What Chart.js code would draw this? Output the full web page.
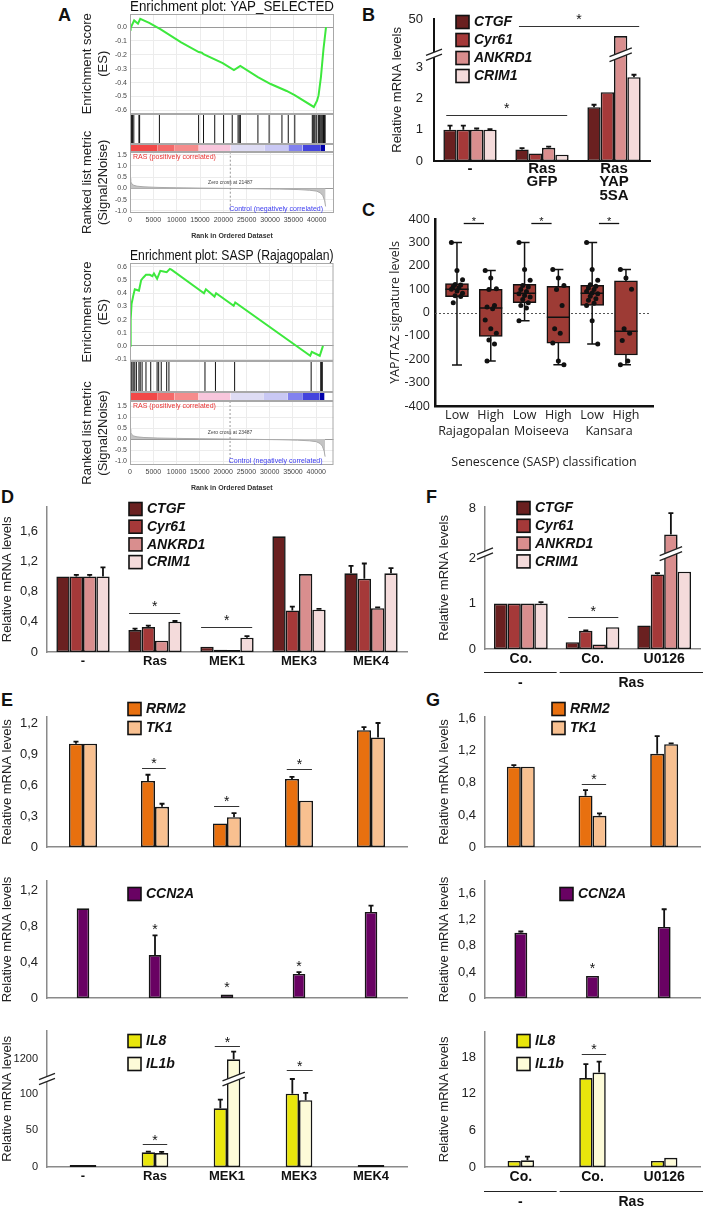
<!DOCTYPE html>
<html>
<head>
<meta charset="utf-8">
<script src="https://cdn.jsdelivr.net/npm/chart.js@4.4.1/dist/chart.umd.min.js"></script>
<style>
body { margin: 0; background: #fff; }
#fig { position: relative; width: 709px; height: 1210px; overflow: hidden; background: #fff; font-family: 'Liberation Sans', Arial, sans-serif; }
#fig canvas { position: absolute; }
.lt { position: absolute; font-weight: bold; font-size: 18px; line-height: 18px; color: #111; }
</style>
</head>
<body>
<div id="fig">
  <div class="lt" style="left:58px;top:6px">A</div>
  <div class="lt" style="left:362px;top:6px">B</div>
  <div class="lt" style="left:362px;top:201px">C</div>
  <div class="lt" style="left:1px;top:488px">D</div>
  <div class="lt" style="left:1px;top:691px">E</div>
  <div class="lt" style="left:426px;top:488px">F</div>
  <div class="lt" style="left:426px;top:691px">G</div>
</div>
<script>
// ---- GSEA (panel A) ----
const rankTicks = [0, 5000, 10000, 15000, 20000, 25000, 30000, 35000, 40000];
const yapX = [0, 140, 890, 1710, 2190, 4110, 6500, 10960, 14730, 15400, 15750, 19860, 22260, 23630, 27400, 30140, 33560, 35270, 39380, 40070, 40400, 40900, 41440, 41990];
const yapY = [0, -0.007, 0.048, 0.024, 0.06, 0.03, -0.015, -0.11, -0.18, -0.185, -0.195, -0.26, -0.31, -0.28, -0.36, -0.41, -0.46, -0.49, -0.575, -0.53, -0.49, -0.36, -0.16, 0.0];
const yapHits = [340, 550, 820, 1920, 2060, 6300, 14700, 15750, 18150, 20050, 21900, 23150, 23400, 23650, 27400, 29800, 32550, 33900, 35300, 39050, 39250, 39450, 39650, 40000, 40350, 40550, 40700, 40900, 41100, 41300, 41450, 41650, 41800];
const saspX = [0, 140, 340, 690, 1030, 1510, 1920, 2400, 2880, 3430, 4250, 4800, 5140, 5820, 6510, 7190, 7880, 8560, 8900, 15890, 16300, 18150, 18490, 22260, 22600, 38700, 39040, 40750, 41440];
const saspY = [0, 0.2, 0.32, 0.38, 0.43, 0.425, 0.42, 0.5, 0.52, 0.54, 0.54, 0.53, 0.55, 0.51, 0.57, 0.565, 0.56, 0.585, 0.58, 0.40, 0.43, 0.375, 0.40, 0.305, 0.33, -0.075, -0.045, -0.075, 0.0];
const saspHits = [200, 410, 690, 1030, 1370, 1920, 2190, 2600, 3430, 4450, 5820, 6160, 6710, 7880, 8360, 16100, 18350, 22470, 38900, 40960, 41100, 41300];
const bandEdges = [0, 5822, 9589, 14726, 21575, 28767, 33904, 36986, 40753, 41781];
const bandColors = ['#f24848', '#f46a6a', '#f58c8c', '#f8c6dc', '#dedcf4', '#c9c8f4', '#8282ee', '#4444dd', '#0000aa'];
const metX = [0, 150, 400, 800, 1500, 3000, 6000, 10000, 15000, 21487, 27000, 32000, 36000, 38500, 40000, 40800, 41300, 41700, 41900];
const metY = [0.45, 0.3, 0.2, 0.14, 0.1, 0.07, 0.045, 0.03, 0.015, 0, -0.015, -0.03, -0.05, -0.08, -0.12, -0.2, -0.32, -0.55, -0.8];
const metTicks = [-1.0, -0.5, 0.0, 0.5, 1.0, 1.5];

// ---- B ----
const labelsB = ['-', ['Ras', 'GFP'], ['Ras', 'YAP', '5SA']];
const ticksB = [0, 1, 2, 3, 50];
const bCTGF = [1.0, 0.37, 1.72], bCTGFerr = [0.13, 0.04, 0.08];
const bCyr61 = [1.0, 0.24, 2.2], bCyr61err = [0.13, 0, 0];
const bANKRD1 = [1.0, 0.42, 28], bANKRD1err = [0.04, 0.04, 0];
const bCRIM1 = [1.0, 0.2, 2.68], bCRIM1err = [0.02, 0, 0.08];

// ---- C ----
const cLabels = ['Low', 'High', 'Low', 'High', 'Low', 'High'];
const cCohorts = ['Rajagopalan', 'Moiseeva', 'Kansara'];
const cTicks = [-400, -300, -200, -100, 0, 100, 200, 300, 400];
const cMin = [-225, -207, -35, -223, -135, -223];
const cQ1 = [68, -102, 42, -131, 30, -182];
const cMed = [99, 19, 82, -20, 82, -80];
const cQ3 = [124, 99, 120, 112, 116, 135];
const cMax = [300, 180, 300, 184, 300, 184];
const cPoints = [
  [300, 180, 140, 120, 118, 110, 105, 100, 92, 82, 72, 68, 42],
  [180, 148, 102, 98, 30, 23, 16, -32, -70, -89, -118, -135, -207],
  [300, 184, 138, 116, 109, 98, 90, 80, 73, 66, 56, 42, 30, 19, -35],
  [184, 148, 116, 98, 30, -70, -89, -131, -207, -223],
  [300, 184, 138, 119, 112, 105, 98, 90, 83, 80, 70, 59, 52, 40, 30, -35, -135],
  [184, 148, 99, -70, -89, -120, -207, -223]
];

// ---- D ----
const labelsDE = ['-', 'Ras', 'MEK1', 'MEK3', 'MEK4'];
const ticksD = [0, 0.4, 0.8, 1.2, 1.6];
const dCTGF = [1.0, 0.29, 0.07, 1.53, 1.04], dCTGFerr = [0, 0.02, 0, 0, 0.1];
const dCyr61 = [1.0, 0.33, 0.03, 0.55, 0.97], dCyr61err = [0.02, 0.02, 0, 0.05, 0.2];
const dANKRD1 = [1.0, 0.15, 0.02, 1.03, 0.58], dANKRD1err = [0.02, 0, 0, 0, 0.01];
const dCRIM1 = [1.0, 0.4, 0.19, 0.56, 1.04], dCRIM1err = [0.12, 0.01, 0.02, 0.01, 0.07];

// ---- E ----
const ticksE1 = [0, 0.3, 0.6, 0.9, 1.2];
const eRRM2 = [1.0, 0.64, 0.23, 0.66, 1.13], eRRM2err = [0.02, 0.06, 0, 0.02, 0.03];
const eTK1 = [1.0, 0.39, 0.29, 0.45, 1.06], eTK1err = [0, 0.03, 0.04, 0, 0.14];
const ticksE2 = [0, 0.4, 0.8, 1.2];
const eCCN2A = [1.0, 0.48, 0.04, 0.27, 0.96], eCCN2Aerr = [0, 0.22, 0, 0.02, 0.07];
const ticksE3 = [0, 50, 100, 1200];
const eIL8 = [1, 20, 80, 100, 1], eIL8err = [0, 1, 12, 20, 0];
const eIL1b = [1, 19, 1200, 91, 1], eIL1berr = [0, 1.5, 420, 10, 0];

// ---- F ----
const labelsFG = ['Co.', 'Co.', 'U0126'];
const ticksF = [0, 1, 2, 8];
const fCTGF = [1.0, 0.15, 0.52], fCTGFerr = [0, 0, 0];
const fCyr61 = [1.0, 0.4, 1.64], fCyr61err = [0, 0.01, 0.03];
const fANKRD1 = [1.0, 0.1, 4.6], fANKRD1err = [0, 0, 2.8];
const fCRIM1 = [1.0, 0.48, 1.7], fCRIM1err = [0.03, 0, 0];

// ---- G ----
const ticksG1 = [0, 0.4, 0.8, 1.2, 1.6];
const gRRM2 = [1.0, 0.64, 1.16], gRRM2err = [0.02, 0.07, 0.22];
const gTK1 = [1.0, 0.39, 1.28], gTK1err = [0, 0.03, 0.01];
const gCCN2A = [1.0, 0.34, 1.09], gCCN2Aerr = [0.02, 0, 0.27];
const ticksG3 = [0, 6, 12, 18];
const gIL8 = [1.0, 14.6, 1.0], gIL8err = [0, 2.3, 0];
const gIL1b = [1.1, 15.5, 1.5], gIL1berr = [0.6, 1.8, 0];

const COL = {
  CTGF: '#6a2020', Cyr61: '#a53939', ANKRD1: '#d98e8e', CRIM1: '#f4dbdb',
  RRM2: '#e8700f', TK1: '#f8c090', CCN2A: '#690263', IL8: '#e9e60c', IL1b: '#fdfbd8'
};

const SANS = "'Liberation Sans', Arial, sans-serif";
const OPEN = "'Open Sans', 'Noto Sans', sans-serif";
Chart.defaults.font.family = SANS;
Chart.defaults.color = '#222';
Chart.defaults.animation = false;

function cv(x, y, w, h) {
  const c = document.createElement('canvas');
  c.width = w; c.height = h;
  Object.assign(c.style, { left: x + 'px', top: y + 'px', width: w + 'px', height: h + 'px' });
  document.getElementById('fig').appendChild(c);
  return c;
}

const num = v => Number.isInteger(v) ? String(v) : v.toFixed(1).replace('.', ',');

function zigzag(ctx, cx, cy, w) {
  const h = w * 0.4, g = 2.5;
  ctx.save();
  ctx.fillStyle = '#fff';
  ctx.beginPath();
  ctx.moveTo(cx - w / 2, cy + h / 2 - g); ctx.lineTo(cx + w / 2, cy - h / 2 - g);
  ctx.lineTo(cx + w / 2, cy - h / 2 + g); ctx.lineTo(cx - w / 2, cy + h / 2 + g);
  ctx.closePath(); ctx.fill();
  ctx.strokeStyle = '#222'; ctx.lineWidth = 1.3;
  ctx.beginPath();
  ctx.moveTo(cx - w / 2, cy + h / 2 - g); ctx.lineTo(cx + w / 2, cy - h / 2 - g);
  ctx.moveTo(cx - w / 2, cy + h / 2 + g); ctx.lineTo(cx + w / 2, cy - h / 2 + g);
  ctx.stroke();
  ctx.restore();
}

// error bars, breaks, significance marks, legend and group labels
function barDecor(o, map) {
  return {
    id: 'barDecor',
    afterDatasetsDraw(chart) {
      const { ctx, chartArea: area } = chart;
      const xs = chart.scales.x, ys = chart.scales.y;
      const n = chart.data.labels.length;
      const px = p => xs.left + (p + 0.5) * xs.width / n;
      const py = v => ys.getPixelForValue(v);
      ctx.save();
      o.sets.forEach((s, di) => {
        if (!s.err) return;
        const bars = chart.getDatasetMeta(di).data;
        s.err.forEach((e, j) => {
          if (!e) return;
          const b = bars[j], top = py(map(s.data[j] + e));
          ctx.strokeStyle = '#111'; ctx.lineWidth = 1.8;
          ctx.beginPath();
          ctx.moveTo(b.x, b.y); ctx.lineTo(b.x, top);
          ctx.moveTo(b.x - 2.5, top); ctx.lineTo(b.x + 2.5, top);
          ctx.stroke();
        });
      });
      if (o.brk) {
        const y = py(o.brk.at);
        zigzag(ctx, area.left, y, 16);
        (o.brk.bars || []).forEach(([di, j]) => {
          const b = chart.getDatasetMeta(di).data[j];
          zigzag(ctx, b.x, y, b.width + 9);
        });
      }
      if (o.sig) {
        const sz = o.sig.size || 14;
        ctx.font = sz + 'px ' + SANS;
        ctx.textAlign = 'center'; ctx.textBaseline = 'alphabetic';
        ctx.fillStyle = '#111'; ctx.strokeStyle = '#333'; ctx.lineWidth = 1;
        (o.sig.lines || []).forEach(([a, b, v]) => {
          const y = Math.round(py(v)) + 0.5;
          ctx.beginPath(); ctx.moveTo(px(a), y); ctx.lineTo(px(b), y); ctx.stroke();
          ctx.fillText('*', (px(a) + px(b)) / 2, y - o.sig.gap + sz * 0.57);
        });
        (o.sig.stars || []).forEach(([a, v]) => ctx.fillText('*', px(a), py(v) + sz * 0.57));
      }
      if (o.legend) {
        const lg = o.legend, sz = 13;
        ctx.font = 'italic bold 14px ' + SANS;
        ctx.textAlign = 'left'; ctx.textBaseline = 'middle';
        o.sets.forEach((s, k) => {
          const cy = lg.y + k * lg.gap;
          ctx.fillStyle = s.color; ctx.fillRect(lg.x, cy - sz / 2, sz, sz);
          ctx.strokeStyle = '#111'; ctx.lineWidth = 1.6; ctx.strokeRect(lg.x, cy - sz / 2, sz, sz);
          ctx.fillStyle = '#111'; ctx.fillText(s.label, lg.x + sz + 5, cy + 0.5);
        });
      }
      if (o.groups) {
        const yl = area.bottom + o.groups.line + 0.5, yt = area.bottom + o.groups.text;
        ctx.font = 'bold 14px ' + SANS;
        ctx.textAlign = 'center'; ctx.textBaseline = 'middle';
        ctx.strokeStyle = '#222'; ctx.lineWidth = 1; ctx.fillStyle = '#111';
        o.groups.items.forEach(([a, b, label]) => {
          const x0 = px(a - 0.5) + (a === 0 ? -1 : 3), x1 = px(b + 0.5) + (b === n - 1 ? 3 : 0);
          ctx.beginPath(); ctx.moveTo(x0, yl); ctx.lineTo(x1, yl); ctx.stroke();
          ctx.fillText(label, (x0 + x1) / 2, yt);
        });
      }
      ctx.restore();
    }
  };
}

function barPanel(o) {
  const map = o.map || (v => v);
  const canvas = cv(o.box[0], o.box[1], o.box[2], o.box[3]);
  const axisCol = o.axisColor || '#8a8a8a';
  return new Chart(canvas, {
    type: 'bar',
    data: {
      labels: o.labels,
      datasets: o.sets.map(s => ({
        label: s.label, data: s.data.map(map), backgroundColor: s.color,
        borderColor: '#151515', borderWidth: 1.6, borderSkipped: false, minBarLength: 2,
        categoryPercentage: o.cat, barPercentage: 1
      }))
    },
    options: {
      responsive: false, devicePixelRatio: 1, animation: false,
      layout: { padding: { top: o.padTop, right: o.padRight, left: 0, bottom: 0 } },
      plugins: { legend: { display: false }, tooltip: { enabled: false }, title: { display: false } },
      scales: {
        x: {
          grid: { display: false, drawTicks: false },
          border: { color: axisCol, width: o.axisWidth || 1.5 },
          ticks: {
            display: o.showX !== false, color: '#111', padding: o.xPad || 4,
            font: { size: o.xFont || 13, weight: 'bold', lineHeight: 0.9 },
            maxRotation: 0, autoSkip: false
          },
          afterFit: a => { a.height = o.xH; }
        },
        y: {
          min: 0, max: o.yMax,
          grid: { display: false, drawTicks: false },
          border: { color: axisCol, width: o.axisWidth || 1.5 },
          afterBuildTicks: a => { a.ticks = o.ticks.map(v => ({ value: map(v) })); },
          ticks: { font: { size: o.yFont || 13 }, color: '#222', padding: o.yPad || 9, autoSkip: false, callback: (v, i) => num(o.ticks[i]) },
          title: { display: true, text: 'Relative mRNA levels', font: { size: 13 }, color: '#222', padding: 0 },
          afterFit: a => { a.width = o.yW; }
        }
      }
    },
    plugins: [barDecor(o, map)]
  });
}

// ---- GSEA builder ----
function gseaPanel(o) {
  const canvas = cv(o.box[0], o.box[1], o.box[2], o.box[3]);
  const ds = [];
  ds.push({ data: o.esX.map((x, i) => ({ x, y: o.esY[i] })), yAxisID: 'yES', borderColor: '#3de83d', borderWidth: 2, pointRadius: 0, tension: 0 });
  ds.push({
    type: 'scatter', data: o.hits.map(x => ({ x, y: 0.5 })), yAxisID: 'yHit',
    pointStyle: 'line', pointRotation: 90, pointRadius: o.hitR, pointBorderColor: '#111', pointBorderWidth: 1
  });
  bandColors.forEach((c, k) => ds.push({
    data: [{ x: bandEdges[k], y: 1 }, { x: bandEdges[k + 1], y: 1 }], yAxisID: 'yBand',
    fill: 'origin', backgroundColor: c, borderWidth: 0, pointRadius: 0
  }));
  ds.push({ data: metX.map((x, i) => ({ x, y: metY[i] })), yAxisID: 'yMet', fill: 'origin', backgroundColor: '#c4c4c4', borderColor: '#aaa', borderWidth: 1, pointRadius: 0 });

  const tickFont = { size: 7 };
  const side = (w, extra) => Object.assign({
    type: 'linear', position: 'left', stack: 'gsea', stackWeight: w,
    grid: { display: false, drawTicks: false }, border: { display: false },
    afterFit: a => { a.width = 50; }
  }, extra);
  const lightGrid = { drawTicks: false, color: c => (c.tick && c.tick.value === 0) ? '#9a9a9a' : '#ececec' };

  return new Chart(canvas, {
    type: 'line',
    data: { datasets: ds },
    options: {
      responsive: false, devicePixelRatio: 1, animation: false,
      layout: { padding: { top: 0, right: 7, left: 0, bottom: 0 } },
      plugins: {
        legend: { display: false }, tooltip: { enabled: false },
        title: { display: true, text: o.title, fullSize: false, color: '#111', font: { size: 14, weight: 'normal', lineHeight: 1 }, padding: { top: 4, bottom: 0 } }
      },
      scales: {
        x: {
          type: 'linear', min: 0, max: 43700,
          afterBuildTicks: a => { a.ticks = rankTicks.map(v => ({ value: v })); },
          ticks: { font: tickFont, color: '#444', padding: 3, maxRotation: 0, autoSkip: false, callback: v => String(v) },
          grid: { color: '#ececec', drawTicks: false }, border: { display: false },
          title: { display: true, text: 'Rank in Ordered Dataset', color: '#333', font: { size: 7, weight: 'bold' }, padding: { top: 2, bottom: 0 } },
          afterFit: a => { a.height = 27; }
        },
        yMet: side(o.w[3], {
          min: o.met[0], max: o.met[1], grid: lightGrid,
          afterBuildTicks: a => { a.ticks = metTicks.map(v => ({ value: v })); },
          ticks: { font: tickFont, color: '#444', padding: 3, autoSkip: false, callback: v => v.toFixed(1) },
          title: { display: true, text: ['Ranked list metric', '(Signal2Noise)'], font: { size: 13 }, color: '#222', padding: 0 }
        }),
        yBand: side(o.w[2], { min: 0, max: 1, ticks: { display: false } }),
        yHit: side(o.w[1], { min: 0, max: 1, ticks: { display: false } }),
        yES: side(o.w[0], {
          min: o.es[0], max: o.es[1], grid: lightGrid,
          afterBuildTicks: a => { a.ticks = o.esTicks.map(v => ({ value: v })); },
          ticks: { font: tickFont, color: '#444', padding: 3, autoSkip: false, callback: v => v.toFixed(1) },
          title: { display: true, text: ['Enrichment score', '(ES)'], font: { size: 13 }, color: '#222', padding: 0 }
        })
      }
    },
    plugins: [{
      id: 'gseaDecor',
      afterDatasetsDraw(chart) {
        const { ctx, chartArea: a, scales: s } = chart;
        ctx.save();
        const zx = s.x.getPixelForValue(o.zero);
        ctx.strokeStyle = '#999'; ctx.lineWidth = 1; ctx.setLineDash([2, 2]);
        ctx.beginPath(); ctx.moveTo(zx, s.yMet.top); ctx.lineTo(zx, s.yMet.bottom); ctx.stroke();
        ctx.setLineDash([]);
        ctx.strokeStyle = '#a8a8a8';
        ['yES', 'yHit', 'yBand', 'yMet'].forEach(id => {
          ctx.strokeRect(a.left + 0.5, Math.round(s[id].top) + 0.5, a.width - 1, Math.round(s[id].height) - 1);
        });
        ctx.font = '7px ' + SANS; ctx.textBaseline = 'middle';
        ctx.fillStyle = '#e83232'; ctx.textAlign = 'left';
        ctx.fillText('RAS (positively correlated)', a.left + 3, s.yMet.top + 5);
        ctx.fillStyle = '#3c3cf0'; ctx.textAlign = 'right';
        ctx.fillText('Control (negatively correlated)', a.right - 11, s.yMet.bottom - 4);
        ctx.font = '5px ' + SANS; ctx.fillStyle = '#444'; ctx.textAlign = 'center';
        ctx.fillText('Zero cross at ' + o.zeroText, zx, s.yMet.getPixelForValue(0.27));
        ctx.restore();
      }
    }]
  });
}

gseaPanel({
  box: [80, -4, 270, 244], title: 'Enrichment plot: YAP_SELECTED',
  esX: yapX, esY: yapY, hits: yapHits, hitR: 15,
  es: [-0.622, 0.094], esTicks: [-0.6, -0.5, -0.4, -0.3, -0.2, -0.1, 0.0],
  met: [-1.09, 1.63], w: [99, 30, 8, 61], zero: 21487, zeroText: '21487'
});
gseaPanel({
  box: [80, 245, 270, 247], title: 'Enrichment plot: SASP (Rajagopalan)',
  esX: saspX, esY: saspY, hits: saspHits, hitR: 15.5,
  es: [-0.115, 0.63], esTicks: [-0.1, 0.0, 0.1, 0.2, 0.3, 0.4, 0.5, 0.6],
  met: [-1.18, 1.73], w: [98, 31, 9, 64], zero: 21487, zeroText: '23487'
});

// ---- B ----
const mapB = v => v <= 3.4 ? v : 3.4 + (v - 3.4) * (1.13 / 46.6);
barPanel({
  box: [390, 0, 300, 206], padTop: 13, padRight: 40, yW: 44, xH: 45, yMax: 4.55,
  labels: labelsB, ticks: ticksB, map: mapB, cat: 0.74, axisColor: '#111', axisWidth: 2,
  xFont: 15, xPad: 1, yFont: 13, yPad: 11,
  sets: [
    { label: 'CTGF', data: bCTGF, err: bCTGFerr, color: COL.CTGF },
    { label: 'Cyr61', data: bCyr61, err: bCyr61err, color: COL.Cyr61 },
    { label: 'ANKRD1', data: bANKRD1, err: bANKRD1err, color: COL.ANKRD1 },
    { label: 'CRIM1', data: bCRIM1, err: bCRIM1err, color: COL.CRIM1 }
  ],
  legend: { x: 66, y: 22, gap: 18 },
  brk: { at: 3.4, bars: [[2, 2]] },
  sig: { gap: 10, lines: [[0.68, 2.35, 4.316], [-0.33, 1.35, 1.47]] }
});

// ---- C (box plot) ----
(function () {
  const canvas = cv(388, 200, 285, 272);
  const pts = [];
  cPoints.forEach((arr, g) => arr.forEach((v, k) => pts.push({ x: g + (((k * 3) % 7) - 3) * 0.055, y: v })));
  const cFont = { family: OPEN, size: 12.5 };
  new Chart(canvas, {
    type: 'bar',
    data: {
      datasets: [
        {
          data: cQ1.map((q, i) => ({ x: i, y: [q, cQ3[i]] })), order: 1,
          backgroundColor: '#9d3b35', borderColor: '#111', borderWidth: 1.5, borderSkipped: false, barThickness: 23
        },
        { type: 'scatter', data: pts, order: 0, pointRadius: 2.5, pointBackgroundColor: '#111', pointBorderWidth: 0 }
      ]
    },
    options: {
      responsive: false, devicePixelRatio: 1, animation: false,
      layout: { padding: { top: 19, right: 20, left: 0, bottom: 0 } },
      plugins: { legend: { display: false }, tooltip: { enabled: false } },
      scales: {
        x: {
          type: 'linear', min: -0.65, max: 5.8, offset: false,
          afterBuildTicks: a => { a.ticks = cLabels.map((l, i) => ({ value: i })); },
          ticks: { callback: (v, i) => cLabels[i], font: cFont, color: '#222', padding: 2, maxRotation: 0, autoSkip: false },
          grid: { display: false, drawTicks: false }, border: { color: '#111', width: 2.5 },
          afterFit: a => { a.height = 18; }
        },
        x2: {
          type: 'linear', position: 'bottom', min: -0.65, max: 5.8, offset: false,
          afterBuildTicks: a => { a.ticks = cCohorts.map((c, i) => ({ value: 2 * i + 0.5 })); },
          ticks: { callback: (v, i) => cCohorts[i], font: cFont, color: '#222', padding: 0, maxRotation: 0, autoSkip: false },
          grid: { display: false, drawTicks: false }, border: { display: false },
          title: { display: true, text: 'Senescence (SASP) classification', font: cFont, color: '#222', padding: { top: 0, bottom: 2 } },
          afterFit: a => { a.height = 48; }
        },
        y: {
          min: -400, max: 400,
          afterBuildTicks: a => { a.ticks = cTicks.map(v => ({ value: v })); },
          ticks: { font: cFont, color: '#222', padding: 5, autoSkip: false, callback: v => String(v) },
          grid: { display: false, drawTicks: false }, border: { color: '#111', width: 2.5 },
          title: { display: true, text: 'YAP/TAZ signature levels', font: cFont, color: '#222', padding: 0 },
          afterFit: a => { a.width = 47; }
        }
      }
    },
    plugins: [{
      id: 'boxDecor',
      beforeDatasetsDraw(chart) {
        const { ctx, chartArea: a, scales: { y } } = chart;
        const y0 = Math.round(y.getPixelForValue(0)) + 0.5;
        ctx.save(); ctx.strokeStyle = '#555'; ctx.lineWidth = 1; ctx.setLineDash([2, 2]);
        ctx.beginPath(); ctx.moveTo(a.left, y0); ctx.lineTo(a.right - 4, y0); ctx.stroke();
        ctx.restore();
      },
      afterDatasetDraw(chart, args) {
        if (args.index !== 0) return;
        const { ctx, scales: { x, y } } = chart;
        ctx.save(); ctx.strokeStyle = '#111'; ctx.lineWidth = 1.5;
        cQ1.forEach((q, i) => {
          const cx = x.getPixelForValue(i);
          ctx.beginPath();
          ctx.moveTo(cx, y.getPixelForValue(cQ3[i])); ctx.lineTo(cx, y.getPixelForValue(cMax[i]));
          ctx.moveTo(cx, y.getPixelForValue(q)); ctx.lineTo(cx, y.getPixelForValue(cMin[i]));
          ctx.moveTo(cx - 5, y.getPixelForValue(cMax[i])); ctx.lineTo(cx + 5, y.getPixelForValue(cMax[i]));
          ctx.moveTo(cx - 5, y.getPixelForValue(cMin[i])); ctx.lineTo(cx + 5, y.getPixelForValue(cMin[i]));
          ctx.moveTo(cx - 11.5, y.getPixelForValue(cMed[i])); ctx.lineTo(cx + 11.5, y.getPixelForValue(cMed[i]));
          ctx.stroke();
        });
        ctx.restore();
      },
      afterDatasetsDraw(chart) {
        const { ctx, scales: { x, y } } = chart;
        ctx.save(); ctx.strokeStyle = '#111'; ctx.lineWidth = 1.3; ctx.fillStyle = '#111';
        ctx.font = '11px ' + SANS; ctx.textAlign = 'center'; ctx.textBaseline = 'alphabetic';
        [0, 2, 4].forEach(g => {
          const x0 = x.getPixelForValue(g + 0.2), x1 = x.getPixelForValue(g + 0.8), yy = Math.round(y.getPixelForValue(383)) + 0.5;
          ctx.beginPath(); ctx.moveTo(x0, yy); ctx.lineTo(x1, yy); ctx.stroke();
          ctx.fillText('*', (x0 + x1) / 2, yy + 1);
        });
        ctx.restore();
      }
    }]
  });
})();

// ---- D ----
barPanel({
  box: [0, 490, 412, 182], padTop: 15, padRight: 5, yW: 47, xH: 20, yMax: 1.92,
  labels: labelsDE, ticks: ticksD, cat: 0.74,
  sets: [
    { label: 'CTGF', data: dCTGF, err: dCTGFerr, color: COL.CTGF },
    { label: 'Cyr61', data: dCyr61, err: dCyr61err, color: COL.Cyr61 },
    { label: 'ANKRD1', data: dANKRD1, err: dANKRD1err, color: COL.ANKRD1 },
    { label: 'CRIM1', data: dCRIM1, err: dCRIM1err, color: COL.CRIM1 }
  ],
  legend: { x: 129, y: 19, gap: 17.7 },
  sig: { gap: 10, lines: [[0.64, 1.35, 0.52], [1.64, 2.35, 0.326]] }
});

// ---- E ----
barPanel({
  box: [0, 700, 412, 164], padTop: 15, padRight: 5, yW: 47, xH: 2, yMax: 1.26, showX: false,
  labels: labelsDE, ticks: ticksE1, cat: 0.39,
  sets: [
    { label: 'RRM2', data: eRRM2, err: eRRM2err, color: COL.RRM2 },
    { label: 'TK1', data: eTK1, err: eTK1err, color: COL.TK1 }
  ],
  legend: { x: 128, y: 9, gap: 19 },
  sig: { gap: 8, lines: [[0.82, 1.15, 0.77], [1.82, 2.17, 0.394], [2.83, 3.18, 0.754]] }
});
barPanel({
  box: [0, 864, 412, 151], padTop: 4, padRight: 5, yW: 47, xH: 2, yMax: 1.306, showX: false,
  labels: labelsDE, ticks: ticksE2, cat: 0.175,
  sets: [{ label: 'CCN2A', data: eCCN2A, err: eCCN2Aerr, color: COL.CCN2A }],
  legend: { x: 128, y: 30, gap: 19 },
  sig: { stars: [[1, 0.80], [2, 0.153], [3, 0.396]] }
});
const mapE3 = v => v <= 120 ? v : 120 + (v - 120) * 0.0248;
barPanel({
  box: [0, 1015, 412, 174], padTop: 5, padRight: 5, yW: 47, xH: 22, yMax: 186, yFont: 11,
  labels: labelsDE, ticks: ticksE3, map: mapE3, cat: 0.37,
  sets: [
    { label: 'IL8', data: eIL8, err: eIL8err, color: COL.IL8 },
    { label: 'IL1b', data: eIL1b, err: eIL1berr, color: COL.IL1b }
  ],
  legend: { x: 128, y: 26, gap: 23 },
  brk: { at: 120, bars: [[1, 2]] },
  sig: { gap: 7.5, lines: [[0.83, 1.17, 32], [1.83, 2.18, 164.6], [2.83, 3.19, 131.6]] }
});

// ---- F ----
const mapF = v => v <= 2.1 ? v : 2.1 + (v - 2.1) * (0.99 / 5.9);
barPanel({
  box: [437, 490, 270, 201], padTop: 12, padRight: 7, yW: 48, xH: 42, yMax: 3.13, xFont: 14,
  labels: labelsFG, ticks: ticksF, map: mapF, cat: 0.75,
  sets: [
    { label: 'CTGF', data: fCTGF, err: fCTGFerr, color: COL.CTGF },
    { label: 'Cyr61', data: fCyr61, err: fCyr61err, color: COL.Cyr61 },
    { label: 'ANKRD1', data: fANKRD1, err: fANKRD1err, color: COL.ANKRD1 },
    { label: 'CRIM1', data: fCRIM1, err: fCRIM1err, color: COL.CRIM1 }
  ],
  legend: { x: 80, y: 18, gap: 17.8 },
  brk: { at: 2.1, bars: [[2, 2]] },
  sig: { gap: 9, lines: [[0.66, 1.36, 0.71]] },
  groups: { line: 23, text: 34, items: [[0, 0, '-'], [1, 2, 'Ras']] }
});

// ---- G ----
barPanel({
  box: [437, 700, 270, 164], padTop: 13, padRight: 7, yW: 48, xH: 2, yMax: 1.62, showX: false,
  labels: labelsFG, ticks: ticksG1, cat: 0.39,
  sets: [
    { label: 'RRM2', data: gRRM2, err: gRRM2err, color: COL.RRM2 },
    { label: 'TK1', data: gTK1, err: gTK1err, color: COL.TK1 }
  ],
  legend: { x: 115, y: 9, gap: 19 },
  sig: { gap: 8, lines: [[0.85, 1.19, 0.787]] }
});
barPanel({
  box: [437, 864, 270, 151], padTop: 4, padRight: 7, yW: 48, xH: 2, yMax: 1.795, showX: false,
  labels: labelsFG, ticks: ticksG1, cat: 0.18,
  sets: [{ label: 'CCN2A', data: gCCN2A, err: gCCN2Aerr, color: COL.CCN2A }],
  legend: { x: 123, y: 30, gap: 19 },
  sig: { stars: [[1, 0.5]] }
});
barPanel({
  box: [437, 1015, 270, 195], padTop: 5, padRight: 7, yW: 48, xH: 43, yMax: 22.2, xFont: 14,
  labels: labelsFG, ticks: ticksG3, cat: 0.37,
  sets: [
    { label: 'IL8', data: gIL8, err: gIL8err, color: COL.IL8 },
    { label: 'IL1b', data: gIL1b, err: gIL1berr, color: COL.IL1b }
  ],
  legend: { x: 80, y: 26, gap: 23 },
  sig: { gap: 8, lines: [[0.85, 1.19, 18.5]] },
  groups: { line: 24, text: 35, items: [[0, 0, '-'], [1, 2, 'Ras']] }
});
</script>
</body>
</html>
